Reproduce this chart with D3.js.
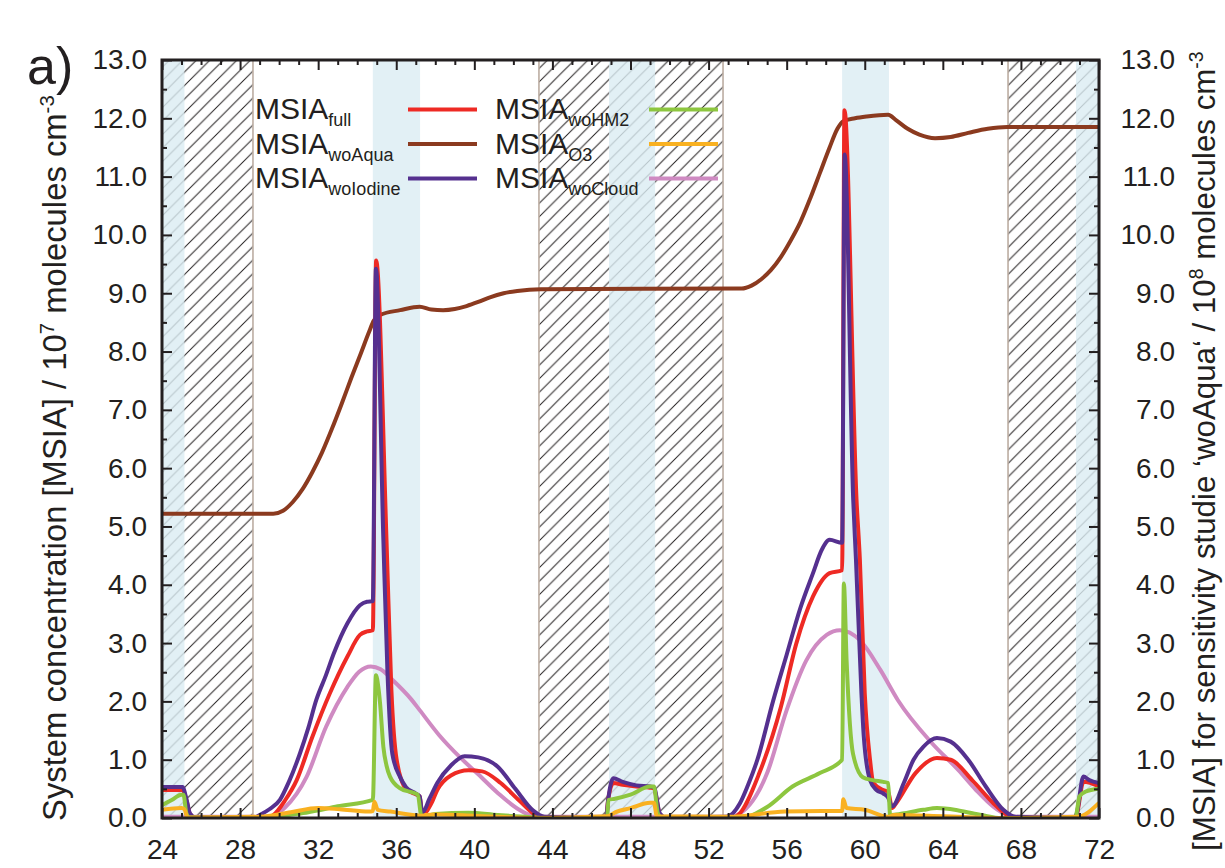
<!DOCTYPE html>
<html><head><meta charset="utf-8">
<script src="https://cdn.jsdelivr.net/npm/d3@7"></script>
<style>
body{margin:0;background:#fff;}
text{font-family:"Liberation Sans",Arial,Helvetica,sans-serif;fill:#231f20;}
</style></head><body>
<svg id="chart" width="1225" height="868"></svg>
<script>
// ---------------- DATA ----------------
const xTicksMajor = [24,28,32,36,40,44,48,52,56,60,64,68,72];
const yTicksMajor = [0,1,2,3,4,5,6,7,8,9,10,11,12,13];
const nightPeriods = [[24,28.66],[43.31,52.74],[67.34,72]];
const cloudPeriods = [[24,25.15],[34.8,37.22],[46.9,49.26],[58.84,61.24],[70.82,72]];

const msiaWoAqua = [[24,5.22],[29.7,5.22],[30.2,5.27],[30.7,5.42],[31.2,5.64],[31.7,5.93],[32.2,6.27],[32.7,6.67],[33.2,7.1],[33.7,7.55],[34.2,7.98],[34.6,8.33],[34.85,8.53],[35.2,8.63],[36.2,8.71],[37.2,8.77],[37.8,8.72],[38.4,8.71],[39.0,8.73],[39.6,8.78],[40.2,8.85],[40.8,8.93],[41.5,9.0],[42.2,9.04],[43.4,9.07],[53.7,9.08],[54.2,9.13],[54.7,9.24],[55.2,9.4],[55.7,9.62],[56.2,9.9],[56.7,10.22],[57.2,10.62],[57.7,11.06],[58.2,11.5],[58.6,11.82],[58.9,11.95],[59.5,12.0],[60.1,12.03],[61.2,12.06],[61.6,11.97],[62.2,11.82],[62.8,11.72],[63.6,11.66],[64.4,11.68],[65.3,11.75],[66.3,11.82],[67.3,11.85],[72,11.85]];

const msiaFull = [[24,0.48],[25.05,0.48],[25.27,0.28],[25.43,0.07],[25.7,0.01],[29.3,0.0],[29.7,0.05],[30.3,0.3],[30.9,0.65],[31.7,1.39],[32.6,2.14],[33.5,2.77],[34.14,3.14],[34.5,3.2],[34.8,3.22],[34.97,9.56],[35.5,4.77],[35.75,2.2],[36.02,1.0],[36.5,0.5],[37.05,0.4],[37.2,0.37],[37.3,0.14],[37.4,0.08],[37.8,0.25],[38.1,0.48],[38.8,0.73],[39.7,0.82],[40.4,0.8],[41.35,0.6],[42.3,0.3],[43.2,0.04],[43.7,0.0],[46.75,0.0],[46.85,0.3],[47.12,0.6],[47.6,0.57],[48.3,0.54],[49.0,0.52],[49.2,0.51],[49.5,0.07],[49.8,0.01],[53.2,0.0],[53.6,0.08],[54.6,0.77],[55.7,1.9],[56.5,3.0],[57.35,3.8],[58.2,4.2],[58.84,4.25],[58.96,12.14],[59.58,5.45],[59.75,4.43],[60.0,2.14],[60.27,1.0],[60.44,0.6],[60.95,0.48],[61.2,0.45],[61.4,0.17],[61.6,0.25],[62.6,0.77],[63.7,1.03],[64.4,1.0],[65.5,0.65],[66.6,0.25],[67.3,0.05],[67.8,0.0],[70.8,0.0],[70.88,0.08],[71.2,0.62],[72,0.54]];

const msiaWoIodine = [[24,0.53],[25.05,0.53],[25.27,0.3],[25.43,0.08],[25.7,0.01],[28.7,0.0],[29.0,0.05],[29.5,0.15],[30.04,0.31],[30.5,0.62],[31.07,1.11],[31.5,1.55],[31.9,2.02],[32.4,2.45],[32.8,2.82],[33.5,3.34],[34.14,3.65],[34.5,3.71],[34.8,3.72],[34.96,9.42],[35.34,4.77],[35.55,2.5],[35.8,1.1],[36.2,0.7],[36.5,0.53],[37.0,0.42],[37.2,0.37],[37.3,0.14],[37.35,0.1],[37.7,0.33],[38.1,0.6],[38.8,0.9],[39.5,1.06],[40.2,1.04],[41.2,0.88],[42.1,0.5],[43.0,0.13],[43.6,0.02],[46.75,0.0],[46.85,0.3],[47.12,0.68],[47.6,0.62],[48.3,0.56],[49.0,0.54],[49.2,0.53],[49.5,0.08],[49.8,0.01],[52.9,0.02],[53.6,0.25],[54.0,0.55],[54.5,1.0],[55.3,2.0],[56.0,2.8],[56.7,3.6],[57.35,4.2],[57.8,4.6],[58.2,4.77],[58.84,4.72],[58.97,11.38],[59.41,5.45],[59.55,4.43],[59.83,2.14],[59.95,1.4],[60.27,0.65],[60.6,0.48],[60.95,0.42],[61.2,0.35],[61.4,0.2],[62.0,0.6],[62.5,1.0],[63.0,1.22],[63.7,1.37],[64.4,1.31],[65.3,1.0],[66.2,0.54],[67.1,0.14],[67.7,0.02],[70.75,0.0],[70.86,0.08],[71.2,0.71],[71.5,0.65],[72,0.6]];

const msiaWoHM2 = [[24,0.22],[24.5,0.31],[25.0,0.4],[25.1,0.4],[25.25,0.08],[25.4,0.01],[29.5,0.0],[30.5,0.05],[31.5,0.1],[33.0,0.2],[34.8,0.31],[34.96,2.45],[35.08,2.25],[35.17,1.97],[35.34,1.22],[35.5,0.9],[35.68,0.71],[36.2,0.51],[36.9,0.43],[37.1,0.4],[37.3,0.02],[38.0,0.07],[39.7,0.09],[41.2,0.05],[42.6,0.02],[43.5,0.0],[46.8,0.0],[46.87,0.31],[47.2,0.33],[48.0,0.4],[49.0,0.54],[49.2,0.54],[49.4,0.08],[49.6,0.01],[53.6,0.0],[55.0,0.19],[56.3,0.54],[57.7,0.77],[58.84,1.0],[58.93,4.02],[59.07,2.7],[59.4,1.1],[59.9,0.7],[60.4,0.65],[60.95,0.62],[61.2,0.6],[61.3,0.05],[61.6,0.06],[63.0,0.14],[63.7,0.17],[64.8,0.13],[66.0,0.05],[67.0,0.0],[70.8,0.0],[70.88,0.14],[71.0,0.37],[71.3,0.45],[72,0.5]];

const msiaO3 = [[24,0.14],[25.0,0.17],[25.15,0.15],[25.3,0.01],[29.0,0.02],[30.6,0.1],[32.0,0.17],[33.1,0.15],[34.6,0.11],[34.8,0.12],[34.88,0.28],[35.05,0.14],[35.7,0.11],[37.3,0.04],[37.5,0.05],[38.0,0.06],[40.0,0.04],[43.0,0.0],[46.8,0.03],[47.3,0.11],[48.0,0.17],[49.0,0.26],[49.2,0.26],[49.35,0.03],[53.0,0.02],[55.9,0.11],[57.8,0.12],[58.84,0.12],[58.9,0.32],[59.07,0.17],[60.0,0.14],[61.2,0.02],[61.5,0.05],[64.0,0.03],[67.0,0.0],[70.9,0.02],[72,0.26]];

const msiaWoCloud = [[24,0.02],[29.5,0.02],[30.3,0.18],[31.4,0.7],[32.4,1.56],[33.5,2.25],[34.1,2.51],[34.7,2.6],[35.2,2.55],[35.8,2.37],[36.78,2.03],[37.2,1.85],[38.2,1.42],[39.3,1.03],[40.2,0.75],[41.2,0.43],[42.3,0.14],[43.2,0.02],[53.2,0.02],[53.4,0.04],[55.0,0.77],[56.0,1.85],[57.0,2.7],[58.05,3.14],[58.73,3.22],[59.75,3.05],[60.8,2.54],[61.7,2.02],[63.4,1.3],[64.8,0.82],[65.7,0.48],[66.6,0.19],[67.3,0.05],[67.8,0.02],[72,0.02]];

// series (drawing order) and legend
const series = [
  {key:"woAqua",  data:msiaWoAqua,  color:"#8b3a1f"},
  {key:"woCloud", data:msiaWoCloud, color:"#cf8ac2"},
  {key:"full",    data:msiaFull,    color:"#ee2a24"},
  {key:"woIodine",data:msiaWoIodine,color:"#55308f"},
  {key:"woHM2",   data:msiaWoHM2,   color:"#8dc63f"},
  {key:"O3",      data:msiaO3,      color:"#f9b121"}
];
const legendLeft  = ["full","woAqua","woIodine"];
const legendRight = ["woHM2","O3","woCloud"];

// ---------------- CHART ----------------
const svg=d3.select("#chart");
const x=d3.scaleLinear().domain([24,72]).range([162,1099]);
const y=d3.scaleLinear().domain([0,13]).range([818,60]);
const ink="#231f20";

const defs=svg.append("defs");
defs.append("clipPath").attr("id","clip").append("rect")
  .attr("x",x(24)).attr("y",y(13)).attr("width",x(72)-x(24)).attr("height",y(0)-y(13));
const hs=13.5;
const pat=defs.append("pattern").attr("id","hatch").attr("patternUnits","userSpaceOnUse")
  .attr("width",hs).attr("height",hs);
pat.append("path").attr("d",`M0,${hs} L${hs},0 M${-hs/2},${hs/2} L${hs/2},${-hs/2} M${hs/2},${hs*1.5} L${hs*1.5},${hs/2}`)
  .attr("stroke",ink).attr("stroke-width",1);

const plot=svg.append("g").attr("clip-path","url(#clip)");
plot.selectAll("rect.night").data(nightPeriods).enter().append("rect")
  .attr("x",d=>x(d[0])).attr("width",d=>x(d[1])-x(d[0]))
  .attr("y",y(13)).attr("height",y(0)-y(13)).attr("fill","url(#hatch)");
plot.selectAll("rect.cloud").data(cloudPeriods).enter().append("rect")
  .attr("x",d=>x(d[0])).attr("width",d=>x(d[1])-x(d[0]))
  .attr("y",y(13)).attr("height",y(0)-y(13)).attr("fill","#dbecf3").attr("opacity",0.8);
const edges=[];
nightPeriods.forEach(p=>{ if(p[0]>24) edges.push(p[0]); if(p[1]<72) edges.push(p[1]); });
plot.selectAll("line.edge").data(edges).enter().append("line")
  .attr("x1",d=>x(d)).attr("x2",d=>x(d)).attr("y1",y(13)).attr("y2",y(0))
  .attr("stroke","#bcada2").attr("stroke-width",1.6);

const line=d3.line().x(d=>x(d[0])).y(d=>y(d[1])).curve(d3.curveMonotoneX);
plot.selectAll("path.series").data(series).enter().append("path")
  .attr("d",d=>line(d.data)).attr("fill","none").attr("stroke",d=>d.color)
  .attr("stroke-width",4).attr("stroke-linejoin","round");

// axes
const fmt=d3.format(".1f");
const yMinor=d3.range(0.5,13,1);
const xMinor=d3.range(24,73,1).filter(v=>v%4!==0);
function styleAxis(g){
  g.select(".domain").remove();
  g.selectAll(".tick line").attr("stroke",ink).attr("stroke-width",2);
  g.selectAll("text").attr("font-size",28).attr("fill",ink)
    .attr("font-family",'"Liberation Sans",Arial,Helvetica,sans-serif');
}
svg.append("g").attr("transform",`translate(${x(24)},0)`)
  .call(d3.axisLeft(y).tickValues(yTicksMajor).tickSize(-10).tickPadding(15).tickFormat(fmt)).call(styleAxis);
svg.append("g").attr("transform",`translate(${x(24)},0)`)
  .call(d3.axisLeft(y).tickValues(yMinor).tickSize(-5).tickFormat("")).call(styleAxis);
const ra=svg.append("g").attr("transform",`translate(${x(72)},0)`)
  .call(d3.axisRight(y).tickValues(yTicksMajor).tickSize(-10).tickPadding(15).tickFormat(fmt)).call(styleAxis);
ra.selectAll("text").attr("text-anchor","end").attr("x",76);
svg.append("g").attr("transform",`translate(${x(72)},0)`)
  .call(d3.axisRight(y).tickValues(yMinor).tickSize(-5).tickFormat("")).call(styleAxis);
svg.append("g").attr("transform",`translate(0,${y(0)})`)
  .call(d3.axisBottom(x).tickValues(xTicksMajor).tickSize(-10).tickPadding(21).tickFormat(d3.format("d"))).call(styleAxis);
svg.append("g").attr("transform",`translate(0,${y(0)})`)
  .call(d3.axisBottom(x).tickValues(xMinor).tickSize(-5).tickFormat("")).call(styleAxis);
svg.append("g").attr("transform",`translate(0,${y(13)})`)
  .call(d3.axisTop(x).tickValues(xTicksMajor).tickSize(-10).tickFormat("")).call(styleAxis);
svg.append("g").attr("transform",`translate(0,${y(13)})`)
  .call(d3.axisTop(x).tickValues(xMinor).tickSize(-5).tickFormat("")).call(styleAxis);

svg.append("rect").attr("x",x(24)).attr("y",y(13)).attr("width",x(72)-x(24)).attr("height",y(0)-y(13))
  .attr("fill","none").attr("stroke",ink).attr("stroke-width",3);

// legend
function legendCol(keys,tx,lx1,lx2){
  keys.forEach((k,i)=>{
    const s=series.find(d=>d.key===k);
    const by=119+i*34.5;
    const t=svg.append("text").attr("x",tx).attr("y",by).attr("font-size",30);
    t.append("tspan").text("MSIA");
    t.append("tspan").attr("font-size",18).attr("dy",7).text(k);
    svg.append("line").attr("x1",lx1).attr("x2",lx2).attr("y1",by-9.5).attr("y2",by-9.5)
      .attr("stroke",s.color).attr("stroke-width",4);
  });
}
legendCol(legendLeft,255,408,477);
legendCol(legendRight,495,649,718);

// titles (rotated, fitted to the span they occupy in the figure)
function vTitle(px,py,main,sup,target){
  let fs=31;
  const t=svg.append("text").attr("transform",`translate(${px},${py}) rotate(-90)`);
  const a=t.append("tspan").text(main);
  const b=t.append("tspan").text(sup);
  const c=t.append("tspan").text(" molecules cm");
  const d=t.append("tspan").text("-3");
  function apply(f){
    t.attr("font-size",f);
    b.attr("font-size",f*0.62).attr("dy",-f*0.38);
    c.attr("dy",f*0.38);
    d.attr("font-size",f*0.62).attr("dy",-f*0.38);
  }
  apply(fs);
  const len=t.node().getComputedTextLength();
  apply(fs*target/len);
}
vTitle(66,821,"System concentration [MSIA] / 10","7",726);
vTitle(1215,851,"[MSIA] for sensitivity studie \u2018woAqua\u2018 / 10","8",800);

svg.append("text").attr("x",27).attr("y",84).attr("font-size",52).text("a)");
</script></body></html>
